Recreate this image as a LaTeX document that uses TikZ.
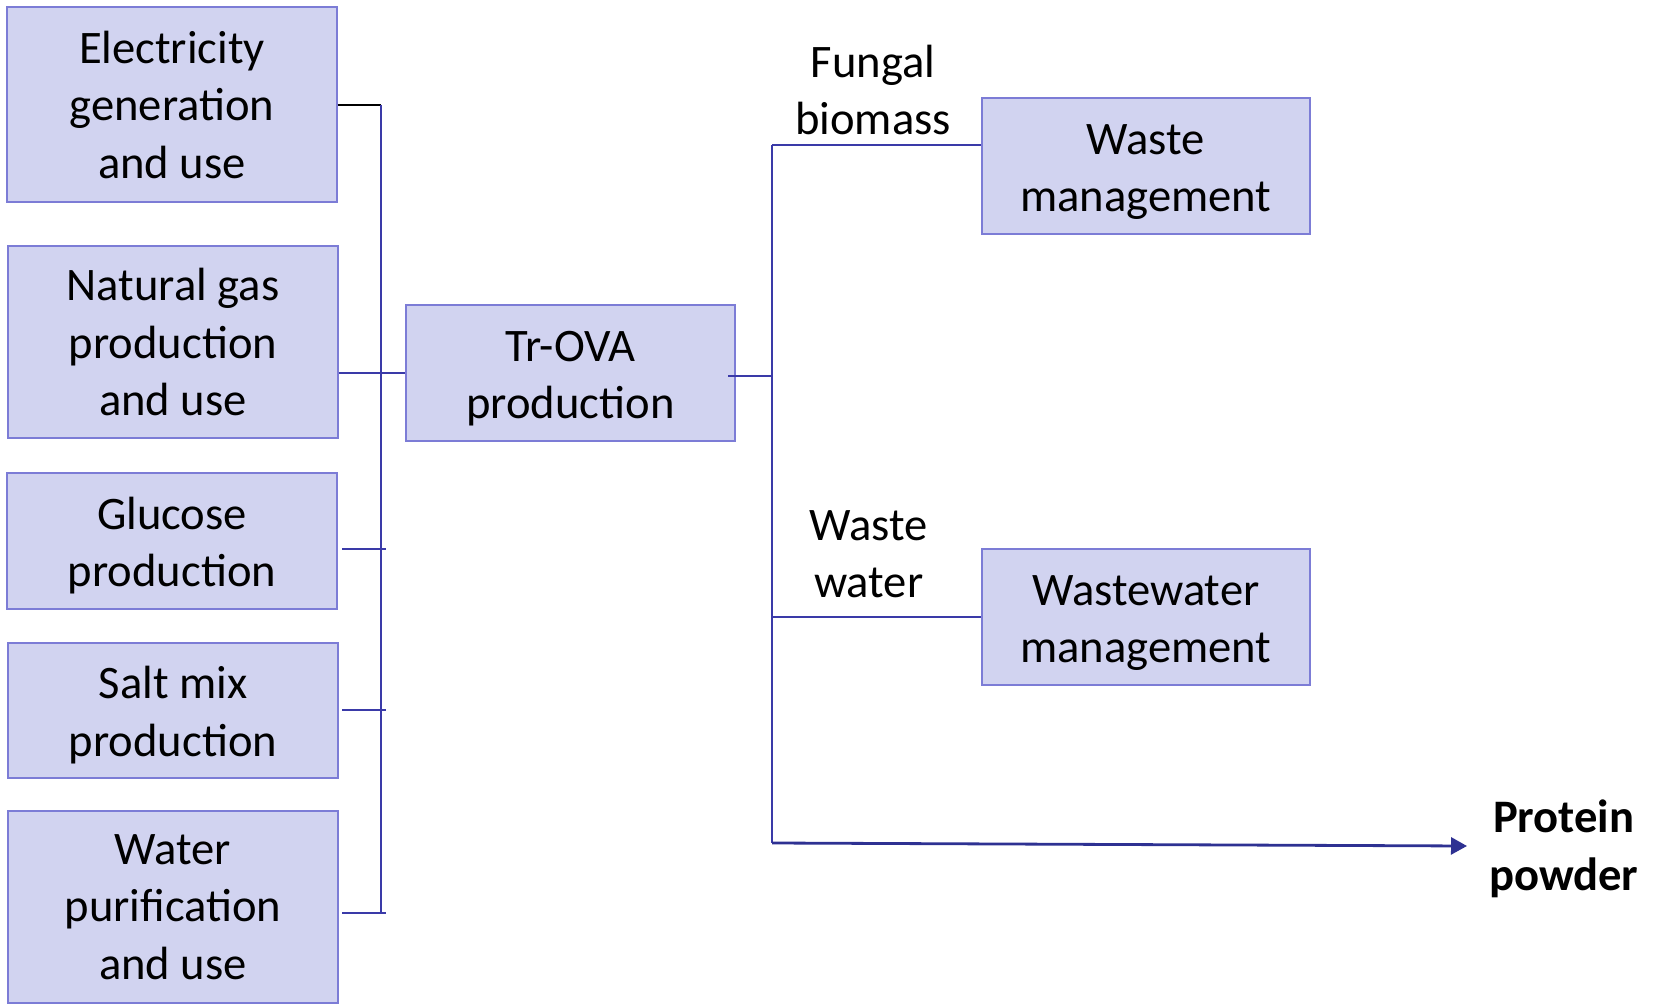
\documentclass[tikz,border=0pt]{standalone}
\usepackage{fontspec}
\setmainfont{Carlito}
\usetikzlibrary{arrows.meta}
\definecolor{boxfill}{RGB}{209,211,240}
\definecolor{boxborder}{RGB}{124,124,214}
\definecolor{linecol}{RGB}{58,58,168}
\definecolor{arrowcol}{RGB}{46,49,146}
\newcommand{\mytopstrut}{\rule{0pt}{21pt}}
\tikzset{
  stagebox/.style={draw=boxborder, fill=boxfill, line width=1pt, align=center,
    inner sep=0pt, font=\fontsize{23.3}{28.75}\selectfont},
  lbl/.style={align=center, inner sep=0pt, font=\fontsize{23.3}{28.75}\selectfont},
  conn/.style={draw=linecol, line width=1pt},
}
\begin{document}
\begin{tikzpicture}[x=0.5pt, y=-0.5pt]
\useasboundingbox (0,0) rectangle (1659,1005);
% left boxes
\node[stagebox, minimum width=164.7pt, minimum height=97.2pt] (elec) at (172,104.5) {Electricity\\generation\\and use};
\node[stagebox, minimum width=164.7pt, minimum height=96.3pt] (gas) at (173,342) {Natural gas\\production\\and use};
\node[stagebox, minimum width=164.6pt, minimum height=68pt] (gluc) at (172,541) {\mytopstrut Glucose\\production};
\node[stagebox, minimum width=164.7pt, minimum height=67.7pt] (salt) at (173,710.2) {\mytopstrut Salt mix\\production};
\node[stagebox, minimum width=164.7pt, minimum height=96pt] (water) at (173,907.2) {Water\\purification\\and use};
% central
\node[stagebox, minimum width=164.5pt, minimum height=68pt] (trova) at (570.5,373) {\mytopstrut Tr-OVA\\production};
% right boxes
\node[stagebox, minimum width=164pt, minimum height=67.7pt] (waste) at (1145.8,166.1) {\mytopstrut Waste\\management};
\node[stagebox, minimum width=164pt, minimum height=67.7pt] (wwm) at (1145.8,616.8) {\mytopstrut Wastewater\\management};
% labels
\node[lbl] (fungal) at (873,90) {Fungal\\biomass};
\node[lbl] (wwlbl) at (868.6,554) {Waste\\water};
\node[lbl, font=\fontsize{23.3}{28.75}\selectfont\bfseries] (protein) at (1563.7,849) {Protein\\powder};
% bus coordinates
\coordinate (lbtop) at (380.5,105);
\coordinate (lbbot) at (380.5,913.3);
\coordinate (rbtop) at (772,145);
\coordinate (rbbot) at (772,843);
\coordinate (trout) at (728,376);
% left connectors
\draw[line width=1pt, black] (elec.east |- lbtop) -- (lbtop);
\draw[conn] (lbtop) -- (lbbot);
\draw[conn] (gas.east |- 0,373) -- (trova.west |- 0,373);
\draw[conn] (342,549) -- (386,549);
\draw[conn] (342,709.5) -- (386,709.5);
\draw[conn] (342,913.3) -- (386,913.3);
% right connectors
\draw[conn] (trout) -- (rbtop |- trout);
\draw[conn] (rbtop) -- (rbbot);
\draw[conn] (rbtop) -- (waste.west |- rbtop);
\draw[conn] (772,616.8) -- (wwm.west |- 0,616.8);
\draw[draw=arrowcol, line width=1.4pt, -{Triangle[length=8pt, width=8.5pt]}] (rbbot) -- (1467,846);
\end{tikzpicture}
\end{document}
